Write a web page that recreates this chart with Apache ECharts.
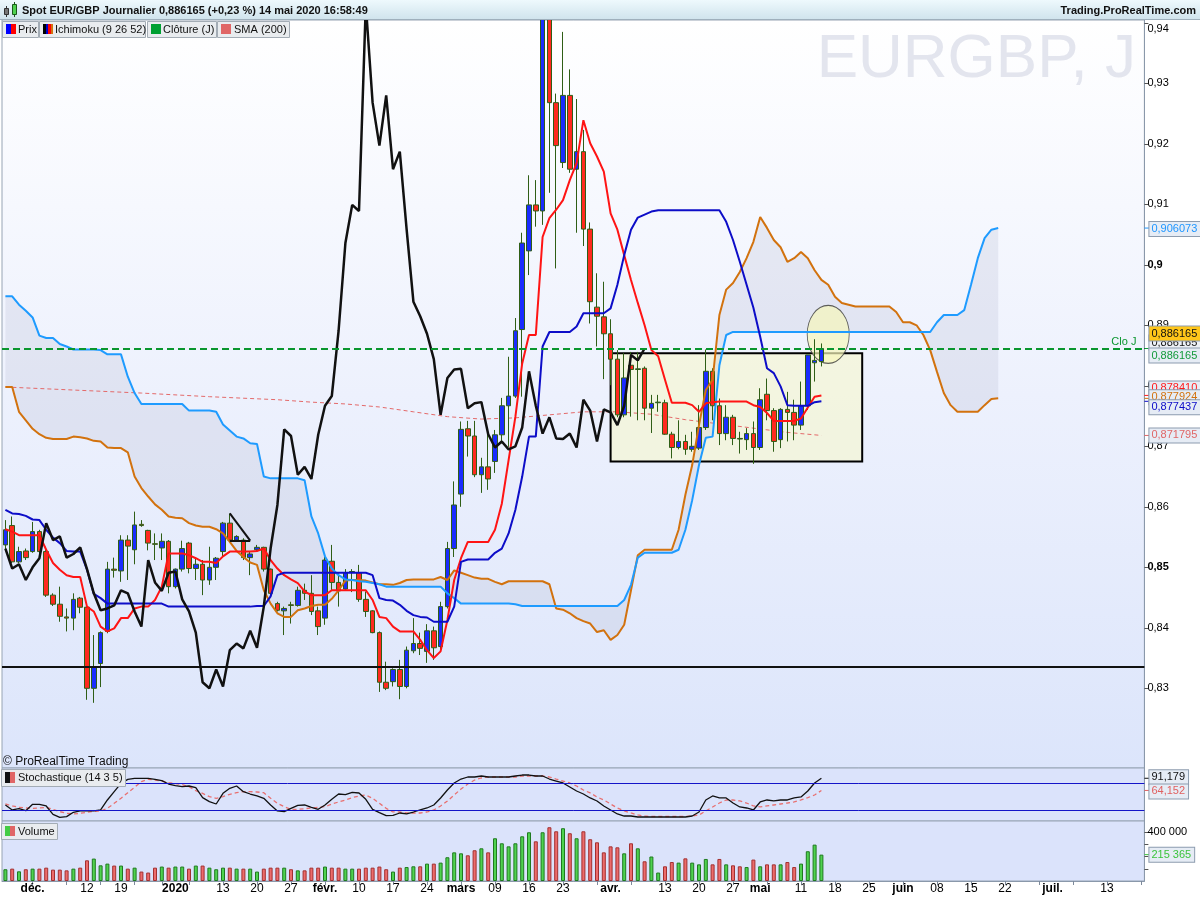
<!DOCTYPE html>
<html>
<head>
<meta charset="utf-8">
<title>Spot EUR/GBP Journalier</title>
<script src="https://cdn.jsdelivr.net/npm/echarts@6.0.0/dist/echarts.min.js"></script>
<style>
html,body{margin:0;padding:0;background:#ffffff;}
#chart{width:1200px;height:900px;}
</style>
</head>
<body>
<div id="chart"></div>
<script>
// ---------------- DATA ----------------
// trading-day calendar (weekdays, without 25 Dec and 1 Jan)
const calendarStart = '2019-11-26';
const calendarEnd = '2020-07-20';
const holidays = ['2019-12-25', '2020-01-01'];

// daily candles [open, close, low, high]
const ohlc = [
[0.8537,0.8562,0.8528,0.8578],[0.8569,0.8509,0.8507,0.8584],[0.8509,0.8526,0.8507,0.8534],[0.8527,0.8516,0.8512,0.8531],
[0.8526,0.8559,0.8524,0.8575],[0.8559,0.8526,0.8523,0.8562],[0.8526,0.8454,0.8451,0.8534],[0.8454,0.8439,0.8436,0.8457],
[0.8439,0.8419,0.8410,0.8468],[0.8418,0.8416,0.8394,0.8432],[0.8416,0.8447,0.8396,0.8457],[0.8449,0.8434,0.8424,0.8451],
[0.8434,0.8300,0.8281,0.8435],[0.8300,0.8336,0.8276,0.8388],[0.8341,0.8392,0.8302,0.8394],[0.8394,0.8497,0.8391,0.8509],
[0.8497,0.8495,0.8483,0.8516],[0.8494,0.8545,0.8476,0.8553],[0.8545,0.8535,0.8479,0.8553],[0.8529,0.8570,0.8505,0.8592],
[0.8571,0.8569,0.8567,0.8578],[0.8561,0.8540,0.8528,0.8562],[0.8539,0.8538,0.8512,0.8556],[0.8532,0.8543,0.8512,0.8556],
[0.8543,0.8468,0.8457,0.8545],[0.8468,0.8497,0.8465,0.8498],[0.8497,0.8531,0.8493,0.8544],[0.8540,0.8498,0.8490,0.8542],
[0.8498,0.8505,0.8479,0.8517],[0.8505,0.8479,0.8454,0.8512],[0.8479,0.8500,0.8471,0.8534],[0.8500,0.8515,0.8479,0.8517],
[0.8526,0.8573,0.8517,0.8575],[0.8573,0.8545,0.8542,0.8589],[0.8545,0.8551,0.8542,0.8553],[0.8545,0.8516,0.8512,0.8548],
[0.8516,0.8522,0.8487,0.8526],[0.8529,0.8533,0.8526,0.8537],[0.8533,0.8497,0.8493,0.8534],[0.8497,0.8457,0.8454,0.8498],
[0.8440,0.8429,0.8427,0.8443],[0.8428,0.8432,0.8388,0.8435],[0.8438,0.8437,0.8407,0.8443],[0.8437,0.8462,0.8435,0.8468],
[0.8462,0.8457,0.8446,0.8473],[0.8457,0.8427,0.8421,0.8487],[0.8428,0.8402,0.8388,0.8435],[0.8416,0.8512,0.8405,0.8518],
[0.8510,0.8475,0.8462,0.8537],[0.8475,0.8461,0.8435,0.8490],[0.8464,0.8491,0.8462,0.8497],[0.8492,0.8493,0.8459,0.8497],
[0.8491,0.8447,0.8443,0.8504],[0.8447,0.8427,0.8418,0.8460],[0.8428,0.8392,0.8391,0.8429],[0.8392,0.8310,0.8294,0.8394],
[0.8310,0.8300,0.8297,0.8344],[0.8311,0.8331,0.8303,0.8333],[0.8331,0.8303,0.8282,0.8347],[0.8303,0.8363,0.8300,0.8369],
[0.8362,0.8374,0.8358,0.8416],[0.8374,0.8366,0.8355,0.8392],[0.8361,0.8395,0.8342,0.8406],[0.8395,0.8367,0.8347,0.8402],
[0.8369,0.8435,0.8363,0.8443],[0.8435,0.8531,0.8432,0.8542],[0.8531,0.8603,0.8517,0.8642],[0.8621,0.8728,0.8600,0.8741],
[0.8729,0.8717,0.8683,0.8742],[0.8717,0.8653,0.8649,0.8742],[0.8653,0.8666,0.8623,0.8681],[0.8666,0.8646,0.8628,0.8722],
[0.8675,0.8719,0.8656,0.8727],[0.8719,0.8767,0.8705,0.8780],[0.8767,0.8783,0.8699,0.8848],[0.8783,0.8891,0.8780,0.8912],
[0.8893,0.9036,0.8782,0.9053],[0.9023,0.9099,0.8983,0.9148],[0.9099,0.9089,0.9063,0.9140],[0.9089,0.9430,0.9066,0.9470],
[0.9425,0.9268,0.9119,0.9499],[0.9268,0.9197,0.8994,0.9283],[0.9169,0.9280,0.9160,0.9385],[0.9280,0.9158,0.9152,0.9323],
[0.9158,0.9187,0.9053,0.9274],[0.9187,0.9059,0.9031,0.9223],[0.9059,0.8939,0.8903,0.9070],[0.8930,0.8915,0.8865,0.8986],
[0.8914,0.8886,0.8811,0.8972],[0.8886,0.8844,0.8801,0.8910],[0.8844,0.8752,0.8748,0.8859],[0.8752,0.8813,0.8748,0.8854],
[0.8834,0.8827,0.8749,0.8856],[0.8827,0.8828,0.8743,0.8856],[0.8829,0.8763,0.8743,0.8832],[0.8763,0.8771,0.8722,0.8785],
[0.8772,0.8773,0.8757,0.8785],[0.8772,0.8720,0.8719,0.8777],[0.8720,0.8698,0.8680,0.8724],[0.8698,0.8708,0.8695,0.8743],
[0.8708,0.8695,0.8686,0.8719],[0.8695,0.8700,0.8691,0.8724],[0.8697,0.8731,0.8694,0.8768],[0.8731,0.8824,0.8727,0.8860],
[0.8824,0.8767,0.8743,0.8829],[0.8767,0.8721,0.8702,0.8779],[0.8721,0.8748,0.8710,0.8768],[0.8748,0.8713,0.8702,0.8752],
[0.8713,0.8712,0.8688,0.8724],[0.8711,0.8721,0.8694,0.8730],[0.8721,0.8698,0.8671,0.8741],[0.8698,0.8777,0.8694,0.8796],
[0.8786,0.8759,0.8743,0.8812],[0.8759,0.8708,0.8691,0.8763],[0.8711,0.8761,0.8697,0.8763],[0.8761,0.8756,0.8708,0.8790],
[0.8756,0.8735,0.8710,0.8777],[0.8735,0.8767,0.8727,0.8807],[0.8767,0.8851,0.8760,0.8851],[0.8838,0.8842,0.8807,0.8877],
[0.8840,0.886165,0.8832,0.8870]
];

// Ichimoku (9 26 52)
const tenkan = [
0.8563,0.8559,0.8553,0.8553,0.8553,0.8553,0.8529,0.8507,0.8496,0.8487,
0.8484,0.8484,0.8435,0.8427,0.8402,0.8394,0.8399,0.8416,0.8416,0.8432,
0.8435,0.8435,0.8446,0.8468,0.8523,0.8523,0.8523,0.8520,0.8515,0.8509,
0.8509,0.8507,0.8518,0.8526,0.8526,0.8526,0.8526,0.8527,0.8531,0.8512,
0.8498,0.8487,0.8480,0.8474,0.8460,0.8454,0.8454,0.8454,0.8462,0.8462,
0.8462,0.8462,0.8462,0.8462,0.8446,0.8418,0.8416,0.8402,0.8394,0.8394,
0.8394,0.8380,0.8363,0.8350,0.8361,0.8413,0.8479,0.8515,0.8542,0.8542,
0.8542,0.8542,0.8562,0.8605,0.8677,0.8749,0.8837,0.8884,0.8884,0.9046,
0.9077,0.9091,0.9107,0.9140,0.9168,0.9239,0.9201,0.9179,0.9154,0.9085,
0.9058,0.9016,0.8975,0.8937,0.8900,0.8859,0.8849,0.8810,0.8772,0.8772,
0.8772,0.8768,0.8757,0.8771,0.8773,0.8774,0.8774,0.8774,0.8774,0.8774,
0.8768,0.8765,0.8755,0.8742,0.8742,0.8742,0.8742,0.8746,0.8764,0.8782,
0.878410
];
const kijun = [
0.8595,0.8589,0.8588,0.8585,0.8579,0.8578,0.8562,0.8549,0.8540,0.8527,
0.8526,0.8526,0.8496,0.8456,0.8449,0.8440,0.8440,0.8440,0.8440,0.8440,
0.8440,0.8440,0.8440,0.8440,0.8435,0.8435,0.8435,0.8435,0.8435,0.8435,
0.8435,0.8435,0.8435,0.8435,0.8435,0.8435,0.8435,0.8436,0.8436,0.8452,
0.8487,0.8491,0.8491,0.8491,0.8491,0.8491,0.8491,0.8491,0.8491,0.8491,
0.8491,0.8491,0.8491,0.8491,0.8487,0.8449,0.8446,0.8445,0.8438,0.8428,
0.8421,0.8418,0.8417,0.8410,0.8410,0.8410,0.8435,0.8509,0.8513,0.8513,
0.8513,0.8513,0.8524,0.8531,0.8556,0.8595,0.8650,0.8716,0.8716,0.8865,
0.8889,0.8889,0.8889,0.8889,0.8898,0.8920,0.8920,0.8920,0.8920,0.8928,
0.8967,0.9016,0.9058,0.9078,0.9083,0.9088,0.9090,0.9090,0.9090,0.9090,
0.9090,0.9090,0.9090,0.9090,0.9090,0.9090,0.9071,0.9041,0.9005,0.8967,
0.8929,0.8881,0.8829,0.8821,0.8799,0.8768,0.8767,0.8767,0.8767,0.8773,
0.877437
];
const senkouA = [
0.8798,0.8798,0.8757,0.8743,0.8729,0.8720,0.8714,0.8712,0.8712,0.8712,
0.8716,0.8715,0.8713,0.8709,0.8708,0.8698,0.8697,0.8697,0.8690,0.8650,
0.8631,0.8617,0.8604,0.8595,0.8584,0.8582,0.8581,0.8573,0.8569,0.8567,
0.8567,0.8563,0.8556,0.8542,0.8527,0.8517,0.8508,0.8504,0.8462,0.8440,
0.8424,0.8418,0.8418,0.8429,0.8432,0.8436,0.8438,0.8438,0.8448,0.8462,
0.8478,0.8479,0.8479,0.8478,0.8475,0.8472,0.8472,0.8471,0.8474,0.8479,
0.8480,0.8480,0.8480,0.8480,0.8484,0.8479,0.8495,0.8491,0.8487,0.8483,
0.8481,0.8481,0.8476,0.8472,0.8477,0.8477,0.8477,0.8477,0.8477,0.8477,
0.8472,0.8432,0.8430,0.8424,0.8416,0.8411,0.8407,0.8393,0.8396,0.8380,
0.8388,0.8405,0.8462,0.8520,0.8529,0.8529,0.8529,0.8529,0.8529,0.8562,
0.8620,0.8669,0.8735,0.8793,0.8810,0.8917,0.8959,0.8970,0.8988,0.9011,
0.9038,0.9079,0.9061,0.9041,0.9029,0.9005,0.9011,0.9021,0.9011,0.8991,
0.8975,0.8967,0.8947,0.8937,0.8934,0.8931,0.8931,0.8931,0.8931,0.8931,
0.8931,0.8922,0.8905,0.8905,0.8900,0.8884,0.8859,0.8823,0.8788,0.8768,
0.8757,0.8757,0.8757,0.8757,0.8768,0.8778,0.877924
];
const senkouB = [
0.8948,0.8948,0.8934,0.8924,0.8913,0.8883,0.8879,0.8879,0.8869,0.8865,
0.8860,0.8860,0.8860,0.8860,0.8859,0.8852,0.8852,0.8852,0.8815,0.8788,
0.8770,0.8770,0.8770,0.8770,0.8770,0.8770,0.8770,0.8759,0.8759,0.8759,
0.8759,0.8757,0.8736,0.8726,0.8716,0.8713,0.8705,0.8704,0.8650,0.8647,
0.8647,0.8647,0.8647,0.8647,0.8644,0.8584,0.8556,0.8518,0.8498,0.8487,
0.8480,0.8479,0.8477,0.8476,0.8474,0.8472,0.8468,0.8468,0.8468,0.8468,
0.8468,0.8468,0.8468,0.8468,0.8468,0.8457,0.8449,0.8440,0.8440,0.8440,
0.8440,0.8440,0.8440,0.8440,0.8440,0.8439,0.8436,0.8436,0.8436,0.8436,
0.8436,0.8436,0.8436,0.8436,0.8436,0.8436,0.8436,0.8436,0.8436,0.8436,
0.8436,0.8446,0.8471,0.8516,0.8524,0.8524,0.8524,0.8524,0.8524,0.8529,
0.8562,0.8611,0.8669,0.8714,0.8716,0.8834,0.8884,0.8889,0.8889,0.8889,
0.8889,0.8889,0.8889,0.8889,0.8889,0.8889,0.8889,0.8889,0.8889,0.8889,
0.8889,0.8889,0.8889,0.8889,0.8889,0.8889,0.8889,0.8889,0.8889,0.8889,
0.8889,0.8889,0.8889,0.8889,0.8889,0.8889,0.8889,0.8905,0.8917,0.8917,
0.8917,0.8925,0.8967,0.9011,0.9044,0.9058,0.906073
];
// SMA(200) read at [day index, value]
const smaPoints = [
[0,0.8798],[10,0.8793],[20,0.8788],[30,0.8782],[40,0.8777],[45,0.8773],[50,0.8770],
[55,0.8765],[60,0.8757],[65,0.8749],[70,0.8745],[75,0.8747],[80,0.8752],[85,0.8757],
[90,0.8757],[95,0.8753],[100,0.8744],[105,0.8737],[110,0.8730],[115,0.8723],[120,0.871795]
];
// Stochastique (14 3 5)
const stochK = [
31.8,20.7,23.6,19.2,33.3,33.3,29.6,11.0,4.4,5.9,15.5,18.5,18.5,18.5,20.7,42.9,61.4,79.9,88.8,91.0,
91.0,91.0,88.8,85.9,78.4,74.7,72.5,74.0,70.3,48.1,39.2,34.0,57.7,68.8,74.0,61.4,56.2,51.8,46.6,31.8,
18.5,17.0,24.4,31.0,31.8,26.6,22.2,31.8,44.4,56.2,54.7,59.9,58.4,44.4,22.2,14.7,8.1,8.8,14.0,11.8,
16.2,20.7,25.1,31.8,47.4,65.1,80.7,89.5,94.0,94.0,96.2,94.0,94.0,94.0,94.0,96.2,98.4,98.4,96.2,96.2,
89.5,85.1,80.7,71.8,62.9,56.2,47.4,40.7,29.6,20.7,11.8,7.3,7.3,5.1,5.1,5.1,5.1,5.1,5.1,5.1,
5.1,7.3,16.2,42.9,51.8,47.4,47.4,36.2,27.4,25.1,20.7,38.5,42.9,40.7,42.9,42.9,47.4,49.6,62.9,80.7,
91.179
];
const stochD = [
34.0,29.6,26.6,25.1,24.4,25.1,26.6,22.2,17.0,13.3,11.8,13.3,15.5,17.7,18.5,24.4,35.5,46.6,59.2,71.0,
83.6,88.8,87.3,85.1,81.4,79.2,77.0,72.5,63.6,57.7,50.3,46.6,50.3,55.5,59.2,61.4,61.4,60.7,59.2,46.6,
35.5,28.1,22.2,22.2,23.6,25.1,26.6,28.1,34.0,38.5,42.9,48.1,51.8,54.0,46.6,35.5,24.4,16.3,16.2,14.0,
14.0,14.0,16.2,20.7,29.6,40.7,54.0,67.3,78.4,87.3,91.8,94.0,94.0,94.0,94.0,94.0,96.2,96.2,96.2,96.2,
94.0,89.5,85.1,80.7,74.0,65.1,58.5,49.6,42.9,34.0,25.1,18.5,14.0,9.6,7.3,6.2,6.2,6.2,6.2,6.2,
6.2,7.3,9.6,18.5,27.4,36.2,42.9,42.9,40.7,36.2,29.6,27.4,29.6,31.8,34.0,36.2,38.5,42.9,48.0,54.0,
64.152
];
const volume = [
96000,101000,79000,96000,101000,101000,109000,93000,93000,87000,101000,109000,169000,183000,128000,142000,126000,126000,101000,109000,
77000,69000,109000,118000,109000,118000,118000,101000,126000,126000,109000,96000,109000,109000,101000,101000,101000,77000,101000,109000,
109000,109000,96000,87000,87000,109000,109000,118000,109000,109000,101000,101000,101000,109000,109000,118000,96000,77000,109000,114000,
120000,120000,142000,142000,150000,194000,234000,226000,210000,251000,267000,234000,349000,308000,283000,308000,365000,398000,324000,398000,
439000,406000,431000,390000,349000,406000,341000,316000,234000,283000,275000,226000,308000,267000,161000,200000,69000,120000,155000,150000,
185000,150000,136000,180000,136000,180000,136000,128000,120000,114000,175000,120000,136000,136000,136000,155000,114000,142000,243000,297000,
215365
];
// annotations drawn on the chart
const supportLevel = 0.8335;
const boxRange = {from: 89, to: 126, top: 0.8854, bottom: 0.8675};
const triangle = {from: 33, to: 36, top: 0.8589, base: 0.8544};
const ellipse = {day: 121, value: 0.8885};
// axis ticks / labels
const priceTicks = [0.83,0.84,0.85,0.86,0.87,0.88,0.89,0.90,0.91,0.92,0.93,0.94];
const volumeTicks = [100000,200000,300000,400000];
const volumeLabels = [400000];
const stochLevels = [80, 20];
const dateLabels = [
['2019-12-02','déc.',1],['2019-12-12','12',0],['2019-12-19','19',0],['2020-01-02','2020',1],
['2020-01-13','13',0],['2020-01-20','20',0],['2020-01-27','27',0],['2020-02-03','févr.',1],
['2020-02-10','10',0],['2020-02-17','17',0],['2020-02-24','24',0],['2020-03-02','mars',1],
['2020-03-09','09',0],['2020-03-16','16',0],['2020-03-23','23',0],['2020-04-01','avr.',1],
['2020-04-13','13',0],['2020-04-20','20',0],['2020-04-27','27',0],['2020-05-01','mai',1],
['2020-05-11','11',0],['2020-05-18','18',0],['2020-05-25','25',0],['2020-06-01','juin',1],
['2020-06-08','08',0],['2020-06-15','15',0],['2020-06-22','22',0],['2020-07-01','juil.',1],
['2020-07-13','13',0]
];

// ---------------- BUILD ----------------
const categories = [];
(function () {
  let t = Date.parse(calendarStart + 'T00:00:00Z');
  const end = Date.parse(calendarEnd + 'T00:00:00Z');
  while (t <= end) {
    const d = new Date(t);
    const s = d.toISOString().slice(0, 10);
    const wd = d.getUTCDay();
    if (wd !== 0 && wd !== 6 && holidays.indexOf(s) < 0) categories.push(s);
    t += 86400000;
  }
})();
const mondays = {};
categories.forEach(c => { if (new Date(c + 'T00:00:00Z').getUTCDay() === 1) mondays[c] = true; });
const labelMap = {};
dateLabels.forEach(d => { labelMap[d[0]] = d; });

const N = ohlc.length;
const closes = ohlc.map(d => d[1]);
const chikou = categories.map((c, i) => (i + 26 < N ? closes[i + 26] : null));
const cloudLow = senkouA.map((a, i) => Math.min(a, senkouB[i]));
const cloudGap = senkouA.map((a, i) => Math.abs(a - senkouB[i]));
const smaData = smaPoints.map(p => [categories[p[0]], p[1]]);
const volData = volume.map((v, i) => ({
  value: v,
  itemStyle: ohlc[i][1] >= ohlc[i][0]
    ? {color: '#4fd24f', borderColor: '#1f7a1f', borderWidth: 1}
    : {color: '#ec6b6b', borderColor: '#a33030', borderWidth: 1}
}));

const FONT = '"Liberation Sans", Arial, sans-serif';
const GRID_L = 2, GRID_W = 1142.4;
const chart = echarts.init(document.getElementById('chart'), null, {renderer: 'canvas', width: 1200, height: 900});

const mainBg = new echarts.graphic.LinearGradient(0, 0, 0, 1, [
  {offset: 0, color: '#ffffff'}, {offset: 0.5, color: '#edf1fd'}, {offset: 1, color: '#dce5fb'}
]);

function priceFmt(v) {
  const s = String(Math.round(v * 100) / 100).replace('.', ',');
  if (Math.abs(v - 0.94) < 1e-6) return '{t|' + s + '}';
  const bold = Math.abs(v - 0.85) < 1e-6 || Math.abs(v - 0.9) < 1e-6;
  return bold ? '{b|' + s + '}' : s;
}

const option = {
  animation: false,
  backgroundColor: '#ffffff',
  textStyle: {fontFamily: FONT},
  grid: [
    {left: GRID_L, width: GRID_W, top: 20, height: 748, show: true, backgroundColor: mainBg, borderColor: '#97a4b4', borderWidth: 1, outerBoundsMode: 'none'},
    {left: GRID_L, width: GRID_W, top: 768, height: 53, show: true, backgroundColor: '#dbe3fb', borderColor: '#97a4b4', borderWidth: 1, outerBoundsMode: 'none'},
    {left: GRID_L, width: GRID_W, top: 821, height: 60, show: true, backgroundColor: '#dbe3fb', borderColor: '#97a4b4', borderWidth: 1, outerBoundsMode: 'none'}
  ],
  xAxis: [
    {type: 'category', gridIndex: 0, data: categories, show: false},
    {type: 'category', gridIndex: 1, data: categories, show: false},
    {type: 'category', gridIndex: 2, data: categories,
      axisLine: {show: true, lineStyle: {color: '#8a98aa', width: 1}},
      axisTick: {show: true, alignWithLabel: true, length: 4, interval: (i, v) => !!mondays[v], lineStyle: {color: '#7d8a9b'}},
      axisLabel: {
        show: true, margin: 2, color: '#000', fontSize: 12, fontFamily: FONT,
        interval: (i, v) => !!labelMap[v],
        formatter: v => { const t = labelMap[v]; if (!t) return ''; return t[2] ? '{b|' + t[1] + '}' : '{n|' + t[1] + '}'; },
        rich: {b: {fontWeight: 'bold', fontSize: 12, color: '#000', fontFamily: FONT}, n: {fontSize: 12, color: '#000', fontFamily: FONT}}
      },
      splitLine: {show: false}
    }
  ],
  yAxis: [
    {type: 'value', gridIndex: 0, position: 'right', min: 0.816826, max: 0.940463, splitLine: {show: false},
      axisLine: {show: true, lineStyle: {color: '#8a98aa'}},
      axisTick: {show: true, customValues: priceTicks, length: 4, lineStyle: {color: '#555'}},
      axisLabel: {customValues: priceTicks, formatter: priceFmt, margin: 3, fontSize: 11, color: '#000', fontFamily: FONT,
        rich: {b: {fontWeight: 'bold', fontSize: 11, color: '#000', fontFamily: FONT},
               t: {fontSize: 11, color: '#000', fontFamily: FONT, padding: [13, 0, 0, 0]}}}
    },
    {type: 'value', gridIndex: 1, position: 'right', min: -3.8, max: 114, splitLine: {show: false},
      axisLine: {show: true, lineStyle: {color: '#8a98aa'}}, axisTick: {show: false}, axisLabel: {show: false}},
    {type: 'value', gridIndex: 2, position: 'right', min: 0, max: 490000, splitLine: {show: false},
      axisLine: {show: true, lineStyle: {color: '#8a98aa'}},
      axisTick: {show: true, customValues: volumeTicks, length: 4, lineStyle: {color: '#555'}},
      axisLabel: {customValues: volumeLabels, formatter: v => String(v).replace(/\B(?=(\d{3})+(?!\d))/g, ' '), margin: 3, fontSize: 11, color: '#000', fontFamily: FONT}
    }
  ],
  series: [
    {name: 'cloudLow', type: 'line', xAxisIndex: 0, yAxisIndex: 0, data: cloudLow, stack: 'cloud', symbol: 'none',
      lineStyle: {opacity: 0}, silent: true, z: 1},
    {name: 'cloudGap', type: 'line', xAxisIndex: 0, yAxisIndex: 0, data: cloudGap, stack: 'cloud', symbol: 'none',
      lineStyle: {opacity: 0}, areaStyle: {color: 'rgba(178,186,210,0.24)', opacity: 1}, silent: true, z: 1},
    {name: 'ellipse', type: 'scatter', xAxisIndex: 0, yAxisIndex: 0, data: [[categories[ellipse.day], ellipse.value]],
      symbol: 'circle', symbolSize: [42, 58], silent: true, z: 1,
      itemStyle: {color: 'rgba(246,246,186,0.88)', borderColor: '#3a3a3a', borderWidth: 1}},
    {name: 'SMA (200)', type: 'line', xAxisIndex: 0, yAxisIndex: 0, data: smaData, symbol: 'none',
      lineStyle: {color: '#e46a6a', width: 1, type: [4, 3]}, silent: true, z: 2},
    {name: 'Senkou A', type: 'line', xAxisIndex: 0, yAxisIndex: 0, data: senkouA, symbol: 'none',
      lineStyle: {color: '#d2720e', width: 2}, silent: true, z: 3},
    {name: 'Senkou B', type: 'line', xAxisIndex: 0, yAxisIndex: 0, data: senkouB, symbol: 'none',
      lineStyle: {color: '#1e9bff', width: 2}, silent: true, z: 3},
    {name: 'Prix', type: 'candlestick', xAxisIndex: 0, yAxisIndex: 0, data: ohlc, barWidth: 5, z: 2,
      itemStyle: {color: '#1a2cff', color0: '#ff2a1f', borderColor: '#2f5e16', borderColor0: '#2f5e16', borderWidth: 1},
      markArea: {silent: true, z: 1,
        itemStyle: {color: 'rgba(247,247,200,0.55)', borderColor: '#000', borderWidth: 2},
        data: [[{xAxis: categories[boxRange.from], yAxis: boxRange.top}, {xAxis: categories[boxRange.to], yAxis: boxRange.bottom}]]},
      markLine: {silent: true, symbol: ['none', 'none'], animation: false, precision: 6, label: {show: false},
        data: [
          {yAxis: supportLevel, lineStyle: {color: '#111', width: 2, type: 'solid'}},
          {yAxis: closes[N - 1], lineStyle: {color: '#0a962e', width: 2, type: [7, 4]},
            label: {show: true, position: 'insideEndTop', formatter: 'Clo J', color: '#0a962e', fontSize: 11, fontFamily: FONT, distance: [8, 1]}},
          [{coord: [categories[triangle.from], triangle.top], lineStyle: {color: '#111', width: 2, type: 'solid'}},
           {coord: [categories[triangle.to], triangle.base]}],
          [{coord: [categories[triangle.from], triangle.base], lineStyle: {color: '#111', width: 2, type: 'solid'}},
           {coord: [categories[triangle.to], triangle.base]}]
        ]}
    },
    {name: 'Tenkan', type: 'line', xAxisIndex: 0, yAxisIndex: 0, data: tenkan, symbol: 'none',
      lineStyle: {color: '#ff1414', width: 2}, silent: true, z: 4},
    {name: 'Kijun', type: 'line', xAxisIndex: 0, yAxisIndex: 0, data: kijun, symbol: 'none',
      lineStyle: {color: '#0d0dc8', width: 2}, silent: true, z: 4},
    {name: 'Chikou', type: 'line', xAxisIndex: 0, yAxisIndex: 0, data: chikou, symbol: 'none',
      lineStyle: {color: '#111111', width: 2.5}, silent: true, z: 4},
    {name: '%K', type: 'line', xAxisIndex: 1, yAxisIndex: 1, data: stochK, symbol: 'none',
      lineStyle: {color: '#111', width: 1.3}, silent: true, z: 4,
      markLine: {silent: true, symbol: ['none', 'none'], label: {show: false}, animation: false, precision: 3,
        lineStyle: {color: '#1414c8', width: 1, type: 'solid'},
        data: stochLevels.map(l => ({yAxis: l}))}},
    {name: '%D', type: 'line', xAxisIndex: 1, yAxisIndex: 1, data: stochD, symbol: 'none',
      lineStyle: {color: '#e87070', width: 1.3, type: [4, 3]}, silent: true, z: 3},
    {name: 'Volume', type: 'bar', xAxisIndex: 2, yAxisIndex: 2, data: volData, barWidth: 4, silent: true}
  ]
};
chart.setOption(option);

// ---------------- OVERLAY TEXT / TAGS ----------------
const AX = GRID_L + GRID_W;
function py(axisIdx, v) { return chart.convertToPixel({yAxisIndex: axisIdx}, v); }
function box(x, y, w, h) {
  return {type: 'rect', shape: {x: x + 0.5, y: y + 0.5, width: w, height: h}, style: {fill: '#e9ecef', stroke: '#a3acb5', lineWidth: 1}, z: 150, silent: true};
}
function txt(x, y, s, font, color, align) {
  return {type: 'text', style: {x: x, y: y, text: s, font: font, fill: color, align: align || 'left', verticalAlign: 'middle'}, z: 151, silent: true};
}
function sq(x, y, w, h, c) {
  return {type: 'rect', shape: {x: x, y: y, width: w, height: h}, style: {fill: c}, z: 152, silent: true};
}
function tag(y, s, color, bg) {
  return {type: 'text', z: 200, silent: true,
    style: {x: AX + 5, y: y, text: s, fill: color, font: '11px ' + FONT, verticalAlign: 'middle', align: 'left',
      backgroundColor: bg, borderColor: '#8d9caf', borderWidth: 1, padding: [2, 3, 1, 2]}};
}
function mark(y, color) {
  return {type: 'line', shape: {x1: AX, y1: y, x2: AX + 5, y2: y}, style: {stroke: color, lineWidth: 1}, z: 199, silent: true};
}
const fmt6 = v => v.toFixed(6).replace('.', ',');
const fmt3 = v => v.toFixed(3).replace('.', ',');
const fmtVol = v => String(v).replace(/\B(?=(\d{3})+(?!\d))/g, ' ');

const lastClose = closes[N - 1];
const tagsDef = [
  {a: 0, v: senkouB[senkouB.length - 1], dy: 1, s: fmt6(senkouB[senkouB.length - 1]), c: '#1e96ff', bg: '#e6ecf5'},
  {a: 0, v: lastClose, dy: -6, s: fmt6(lastClose), c: '#111', bg: '#edf0f6'},
  {a: 0, v: lastClose, dy: -15, s: fmt6(lastClose), c: '#111', bg: '#ffc61a'},
  {a: 0, v: lastClose, dy: 7, s: fmt6(lastClose), c: '#129a3a', bg: '#e6ecf5'},
  {a: 0, v: tenkan[N - 1], dy: -7, s: fmt6(tenkan[N - 1]), c: '#ff1a1a', bg: '#e6ecf5'},
  {a: 0, v: senkouA[senkouA.length - 1], dy: -1, s: fmt6(senkouA[senkouA.length - 1]), c: '#d2720e', bg: '#e6ecf5'},
  {a: 0, v: kijun[N - 1], dy: 6, s: fmt6(kijun[N - 1]), c: '#0a0ac8', bg: '#e6ecf5'},
  {a: 0, v: smaPoints[smaPoints.length - 1][1], dy: 0, s: fmt6(smaPoints[smaPoints.length - 1][1]), c: '#e06666', bg: '#e6ecf5'},
  {a: 1, v: stochK[N - 1], dy: -1, s: fmt3(stochK[N - 1]), c: '#111', bg: '#e6ecf5'},
  {a: 1, v: stochD[N - 1], dy: 1, s: fmt3(stochD[N - 1]), c: '#e06060', bg: '#e6ecf5'},
  {a: 2, v: volume[N - 1], dy: 0, s: fmtVol(volume[N - 1]), c: '#3cc43c', bg: '#e6ecf5'}
];

const headerGrad = new echarts.graphic.LinearGradient(0, 0, 0, 1, [
  {offset: 0, color: '#eef9fd'}, {offset: 1, color: '#cfe3ec'}
]);

const elements = [
  // watermark
  {type: 'text', z: 1, silent: true, style: {x: 1136, y: 60, text: 'EURGBP, J', font: '62px ' + FONT, fill: '#e3e5ee', align: 'right', verticalAlign: 'middle'}},
  // header bar
  {type: 'rect', shape: {x: 0, y: 0, width: 1200, height: 20}, style: {fill: headerGrad}, z: 100, silent: true},
  {type: 'line', shape: {x1: 0, y1: 19.5, x2: 1200, y2: 19.5}, style: {stroke: '#9fb0bc', lineWidth: 1}, z: 101, silent: true},
  {type: 'line', shape: {x1: 6.5, y1: 6, x2: 6.5, y2: 17}, style: {stroke: '#333', lineWidth: 1}, z: 102, silent: true},
  {type: 'rect', shape: {x: 4.5, y: 8.5, width: 4, height: 6}, style: {fill: '#777', stroke: '#333', lineWidth: 1}, z: 103, silent: true},
  {type: 'line', shape: {x1: 14.5, y1: 2, x2: 14.5, y2: 17}, style: {stroke: '#1a5a1a', lineWidth: 1}, z: 102, silent: true},
  {type: 'rect', shape: {x: 12.5, y: 4.5, width: 4, height: 10}, style: {fill: '#4fd24f', stroke: '#1a5a1a', lineWidth: 1}, z: 103, silent: true},
  txt(22, 10.5, 'Spot EUR/GBP Journalier 0,886165 (+0,23 %) 14 mai 2020 16:58:49', 'bold 11px ' + FONT, '#111'),
  txt(1196, 10.5, 'Trading.ProRealTime.com', 'bold 11px ' + FONT, '#111', 'right'),
  // legend row
  box(2, 21, 36, 16), sq(6, 24, 5, 10, '#0000ff'), sq(11, 24, 5, 10, '#ff0000'), txt(18, 29.5, 'Prix', '11px ' + FONT, '#111'),
  box(39, 21, 106, 16), sq(43, 24, 3, 10, '#000'), sq(46, 24, 2, 10, '#0000cc'), sq(48, 24, 3, 10, '#ff0000'), sq(51, 24, 2, 10, '#d2720e'),
  txt(55, 29.5, 'Ichimoku (9 26 52)', '11px ' + FONT, '#111'),
  box(147, 21, 69, 16), sq(151, 24, 10, 10, '#00a032'), txt(163, 29.5, 'Clôture (J)', '11px ' + FONT, '#111'),
  box(217, 21, 72, 16), sq(221, 24, 10, 10, '#e06666'), txt(234, 29.5, 'SMA (200)', '11px ' + FONT, '#111'),
  // footer of main pane
  txt(3, 761.5, '© ProRealTime Trading', '12px ' + FONT, '#111'),
  // pane titles
  box(1, 769, 124, 17), sq(5, 772, 5, 11, '#111'), sq(10, 772, 5, 11, '#e06666'), txt(18, 778, 'Stochastique (14 3 5)', '11px ' + FONT, '#111'),
  box(1, 823, 56, 16), sq(5, 826, 5, 10, '#44cc44'), sq(10, 826, 5, 10, '#e06666'), txt(18, 831.5, 'Volume', '11px ' + FONT, '#111')
];
tagsDef.forEach(t => {
  const y = py(t.a, t.v);
  elements.push(mark(y, t.c));
  elements.push(tag(y + t.dy, t.s, t.c, t.bg));
});
chart.setOption({graphic: {elements: elements}});
</script>
</body>
</html>
